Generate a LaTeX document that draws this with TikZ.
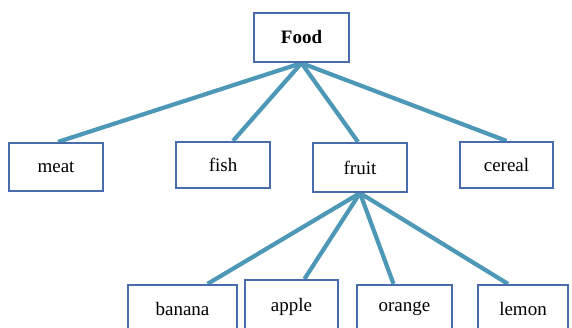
\documentclass[tikz,border=0pt]{standalone}
\usepackage{fontspec}
\setmainfont{Liberation Serif}
\usetikzlibrary{backgrounds}
\definecolor{boxblue}{RGB}{72,108,172}
\definecolor{linkteal}{RGB}{76,152,182}
\begin{document}
\begin{tikzpicture}[x=1pt,y=-1pt,
  box/.style={draw=boxblue,line width=2.2pt,fill=white,inner sep=0pt,
    font=\fontsize{19}{22}\selectfont},
  link/.style={draw=linkteal,line width=4.2pt}]
\useasboundingbox (0,0) rectangle (572,328);
\clip (0,0) rectangle (572,328);
\node[box,minimum width=95pt,minimum height=49pt,font=\fontsize{19}{22}\selectfont\bfseries] (food) at (301.5,37.5) {Food};
\node[box,minimum width=94pt,minimum height=48pt] (meat) at (56,167) {meat};
\node[box,minimum width=94pt,minimum height=46pt] (fish) at (223,165) {fish};
\node[box,minimum width=94pt,minimum height=49pt] (fruit) at (360,167.5) {fruit};
\node[box,minimum width=93pt,minimum height=46pt] (cereal) at (506.5,165) {cereal};
\node[box,minimum width=109pt,minimum height=48pt] (banana) at (182.5,309) {banana};
\node[box,minimum width=93pt,minimum height=54pt,text depth=5pt] (apple) at (291.5,307) {apple};
\node[box,minimum width=95pt,minimum height=48pt] (orange) at (404.5,309) {orange};
\node[box,minimum width=90pt,minimum height=48pt] (lemon) at (523,309) {lemon};
\begin{scope}[on background layer]
\draw[link] (food.south) -- ([xshift=2pt]meat.north);
\draw[link] (food.south) -- ([xshift=10pt]fish.north);
\draw[link] (food.south) -- ([xshift=-2pt]fruit.north);
\draw[link] (food.south) -- (cereal.north);
\draw[link] (fruit.south) -- ([xshift=25pt]banana.north);
\draw[link] (fruit.south) -- ([xshift=13pt]apple.north);
\draw[link] (fruit.south) -- ([xshift=-11pt]orange.north);
\draw[link] (fruit.south) -- ([xshift=-15pt]lemon.north);
\end{scope}
\end{tikzpicture}
\end{document}
